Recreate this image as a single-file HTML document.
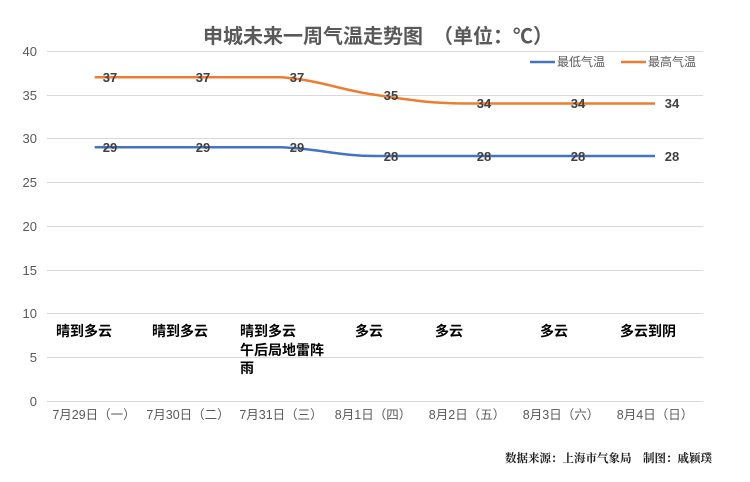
<!DOCTYPE html>
<html><head><meta charset="utf-8"><style>
body{margin:0;background:#fff}
svg{display:block;font-family:"Liberation Sans","Noto Sans CJK SC",sans-serif}
</style></head><body>
<svg width="750" height="482" viewBox="0 0 750 482">
<rect width="750" height="482" fill="#fff"/>
<text x="378" y="43" text-anchor="middle" font-size="20" font-weight="bold" fill="#595959">申城未来一周气温走势图　（单位：℃）</text>
<g stroke="#d9d9d9" stroke-width="1">
<line x1="47" y1="51.5" x2="703" y2="51.5"/><line x1="47" y1="95.5" x2="703" y2="95.5"/>
<line x1="47" y1="138.5" x2="703" y2="138.5"/><line x1="47" y1="182.5" x2="703" y2="182.5"/>
<line x1="47" y1="226.5" x2="703" y2="226.5"/><line x1="47" y1="270.5" x2="703" y2="270.5"/>
<line x1="47" y1="313.5" x2="703" y2="313.5"/><line x1="47" y1="357.5" x2="703" y2="357.5"/>
<line x1="47" y1="401.5" x2="703" y2="401.5"/>
</g>
<g font-size="13" fill="#595959" text-anchor="end">
<text x="37" y="56">40</text><text x="37" y="100">35</text><text x="37" y="143">30</text>
<text x="37" y="187">25</text><text x="37" y="231">20</text><text x="37" y="275">15</text>
<text x="37" y="318">10</text><text x="37" y="362">5</text><text x="37" y="406">0</text>
</g>
<path d="M94.7 77.3 L188 77.3 L281.5 77.3 C320 80 340 90 375 94.8 C410 100 430 103.5 468 103.5 L562 103.5 L655 103.5" fill="none" stroke="#ed7d31" stroke-width="2.5"/>
<path d="M94.7 147.3 L188 147.3 L281.5 147.3 C320 149 340 156 375 156 L468 156 L562 156 L655 156" fill="none" stroke="#4472c4" stroke-width="2.5"/>
<g font-size="13" font-weight="bold" fill="#404040" text-anchor="middle">
<text x="110" y="82">37</text><text x="203" y="82">37</text><text x="297" y="82">37</text>
<text x="391" y="100">35</text><text x="484" y="108">34</text><text x="578" y="108">34</text><text x="672" y="108">34</text>
<text x="110" y="152">29</text><text x="203" y="152">29</text><text x="297" y="152">29</text>
<text x="391" y="161">28</text><text x="484" y="161">28</text><text x="578" y="161">28</text><text x="672" y="161">28</text>
</g>
<line x1="530" y1="62" x2="555" y2="62" stroke="#4472c4" stroke-width="2.5"/>
<text x="557" y="66" font-size="12" fill="#595959">最低气温</text>
<line x1="621" y1="62" x2="646" y2="62" stroke="#ed7d31" stroke-width="2.5"/>
<text x="648" y="66" font-size="12" fill="#595959">最高气温</text>
<g font-size="14" font-weight="bold" fill="#000">
<text x="56" y="336">晴到多云</text><text x="152" y="336">晴到多云</text>
<text x="240" y="336">晴到多云</text><text x="240" y="355">午后局地雷阵</text><text x="240" y="373">雨</text>
<text x="355" y="336">多云</text><text x="435" y="336">多云</text><text x="540" y="336">多云</text><text x="620" y="336">多云到阴</text>
</g>
<g font-size="12.5" fill="#595959" text-anchor="middle">
<text x="94" y="419">7月29日（一）</text><text x="188" y="419">7月30日（二）</text>
<text x="281" y="419">7月31日（三）</text><text x="373" y="419">8月1日（四）</text>
<text x="467" y="419">8月2日（五）</text><text x="561" y="419">8月3日（六）</text>
<text x="655" y="419">8月4日（日）</text>
</g>
<text x="712" y="462" font-size="11.5" font-weight="bold" fill="#222" text-anchor="end" font-family="'Noto Serif CJK SC',serif">数据来源：上海市气象局　制图：戚颖璞</text>
</svg>
</body></html>
